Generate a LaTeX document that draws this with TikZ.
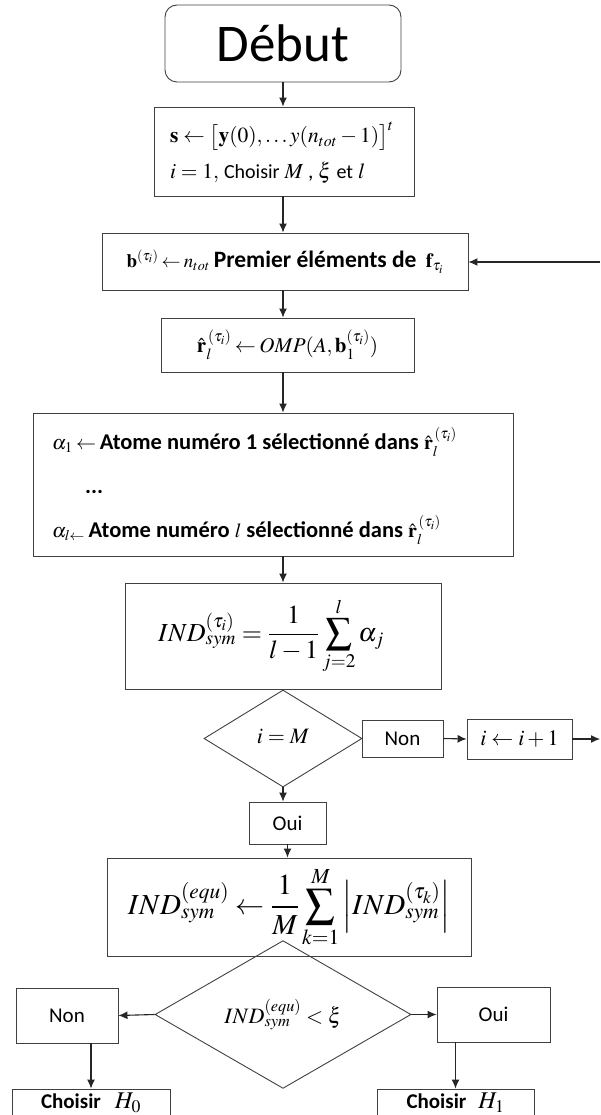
\documentclass[tikz,border=0pt]{standalone}
\usepackage{mathptmx}
\usepackage[no-math]{fontspec}
\setmainfont{Carlito}
\usetikzlibrary{arrows.meta,shapes.geometric}
\newcommand\fsz[1]{\fontsize{#1}{#1}\selectfont}
\newcommand\tightmath{\thickmuskip=3mu plus 1mu\medmuskip=2mu plus 1mu}
\begin{document}
\begin{tikzpicture}[x=1pt,y=-1pt,
  box/.style={draw=black!75,line width=0.9pt,inner sep=0pt,align=center},
  dia/.style={draw=black!75,line width=0.9pt,diamond,inner sep=0pt},
  arr/.style={draw=black!85,line width=1.1pt,-{Latex[length=9pt,width=8pt]}},
  txt/.style={inner sep=0pt}
]
\useasboundingbox (0,0) rectangle (600,1115);
\coordinate (axis) at (283,0);
% nodes
\node[box,rounded corners=12pt,minimum width=236pt,minimum height=77pt,font=\fsz{53}] (debut) at (283,43.5) {Début};
\node[box,minimum width=260pt,minimum height=89pt] (init) at (284,151.5) {};
\node[txt,anchor=west,align=left,font=\fontsize{21.5}{36}\selectfont] (inittxt) at (170,153) {$\mathbf{s}\leftarrow\big[\mathbf{y}(0),\ldots y(n_{tot}-1)\big]^{t}$\\ $i=1,$ {\fontsize{20}{20}\selectfont Choisir} $M$ , $\xi$ {\fontsize{20}{20}\selectfont et} $l$};
\node[box,minimum width=366pt,minimum height=57pt,font=\fsz{23.5}] (b) at (285,261.5) {{\fsz{19}\tightmath$\mathbf{b}^{(\tau_i)}\leftarrow n_{tot}$}\,\textbf{Premier éléments de}\, {\fsz{20}$\mathbf{f}_{\tau_i}$}};
\node[box,minimum width=253pt,minimum height=54pt,font=\fsz{21}] (omp) at (287.5,345) {\tightmath$\hat{\mathbf{r}}_l^{\,(\tau_i)}\leftarrow OMP(A,\mathbf{b}_1^{(\tau_i)})$};
\node[box,minimum width=480pt,minimum height=143pt] (atom) at (273,484.5) {};
\node[txt,anchor=west,align=left,font=\fontsize{22.5}{44}\selectfont] (atomtxt) at (52,486) {{\fsz{20}\tightmath$\alpha_1\leftarrow$}\,\textbf{Atome numéro 1 sélectionné dans} {\fsz{20}$\hat{\mathbf{r}}_l^{\,(\tau_i)}$}\\ \hspace*{33pt}\textbf{...}\\ {\fsz{20}$\alpha_{l\leftarrow}$}\,\textbf{Atome numéro} {\fsz{20}$l$} \textbf{sélectionné dans} {\fsz{20}$\hat{\mathbf{r}}_l^{\,(\tau_i)}$}};
\node[box,minimum width=316pt,minimum height=106pt,font=\fsz{26}] (ind) at (283,636) {$\displaystyle IND_{sym}^{(\tau_i)}=\frac{1}{l-1}\sum_{j=2}^{l}\alpha_j$\hspace*{24pt}};
\node[dia,minimum width=158pt,minimum height=97pt,font=\fsz{22}] (d1) at (283,738.5) {\raisebox{5pt}{$i=M$}};
\node[box,minimum width=81pt,minimum height=37pt,font=\fsz{21}] (non1) at (402.5,738.5) {Non};
\node[box,minimum width=105pt,minimum height=40pt,font=\fsz{22}] (inc) at (519.5,739) {$i\leftarrow i+1$};
\coordinate (loopR) at (600,739);
\coordinate (loopT) at (600,262);
\node[box,minimum width=77pt,minimum height=42pt,font=\fsz{21}] (oui1) at (287.5,823) {Oui};
\node[box,minimum width=364pt,minimum height=98pt,font=\fsz{29}] (equ) at (289,907) {$\displaystyle IND_{sym}^{(equ)}\leftarrow\frac{1}{M}\sum_{k=1}^{M}\left|IND_{sym}^{(\tau_k)}\right|$};
\node[dia,minimum width=256pt,minimum height=119pt,font=\fsz{22}] (d2) at (283,1014.5) {$IND_{sym}^{(equ)}<\xi$};
\node[box,minimum width=102pt,minimum height=55pt,font=\fsz{21}] (non2) at (67,1015.5) {Non};
\node[box,minimum width=113pt,minimum height=55pt,font=\fsz{21}] (oui2) at (493.5,1014.5) {Oui};
\node[box,minimum width=158pt,minimum height=28pt,font=\fsz{21}] (h0) at (91,1103) {\raisebox{3pt}{\textbf{Choisir}\hspace{14pt}{\fsz{24}$H_0$}}};
\node[box,minimum width=157pt,minimum height=28pt,font=\fsz{21}] (h1) at (455.5,1103) {\raisebox{3pt}{\textbf{Choisir}\hspace{12pt}{\fsz{24}$H_1$}}};
% connectors
\draw[arr] (axis |- debut.south) -- (axis |- init.north);
\draw[arr] (axis |- init.south) -- (axis |- b.north);
\draw[arr] (axis |- b.south) -- (axis |- omp.north);
\draw[arr] (axis |- omp.south) -- (axis |- atom.north);
\draw[arr] (axis |- atom.south) -- (axis |- ind.north);
\draw[arr] (loopT) -- (loopT -| b.east);
\draw[arr] (non1.east) -- (inc.west);
\draw[arr] (inc.east) -- (loopR);
\draw[arr] (d1.south) -- (d1.south |- oui1.north);
\draw[arr] (oui1.south) -- (oui1.south |- equ.north);
\draw[arr] (d2.west) -- (non2.east);
\draw[arr] (d2.east) -- (oui2.west);
\draw[arr] (h0.north |- non2.south) -- (h0.north);
\draw[arr] (h1.north |- oui2.south) -- (h1.north);
\end{tikzpicture}
\end{document}
